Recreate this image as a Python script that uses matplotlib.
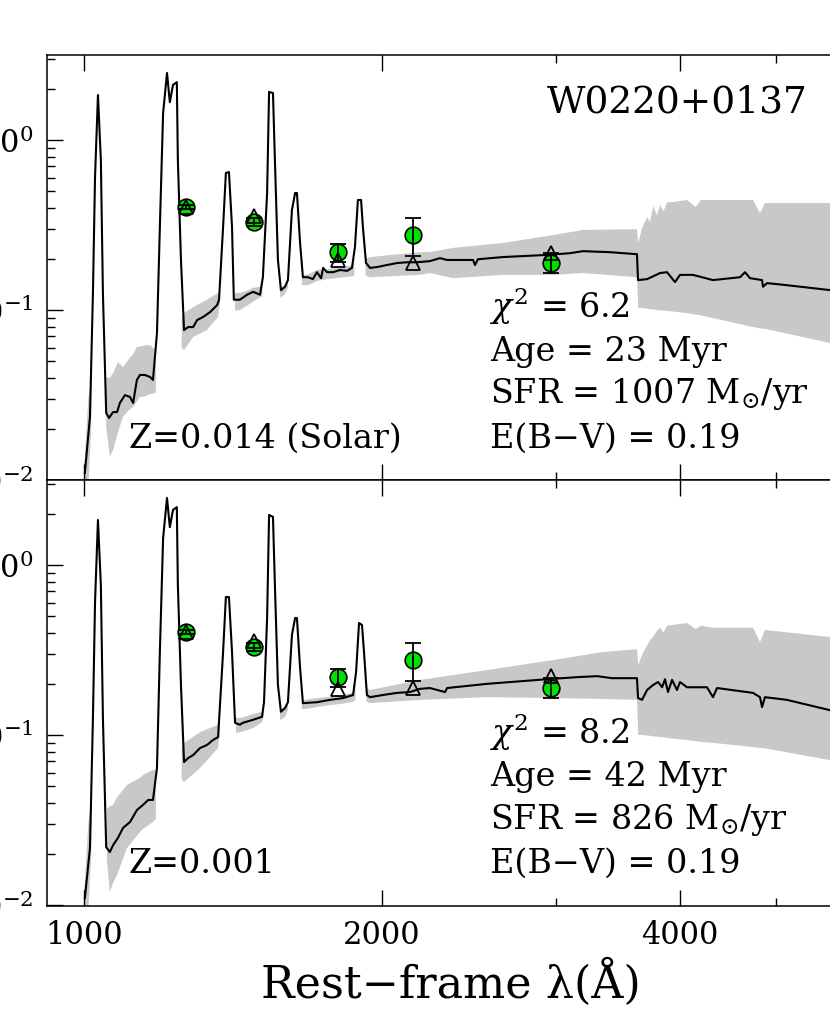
import numpy as np
import matplotlib
matplotlib.use("Agg")
import matplotlib.pyplot as plt
from matplotlib.ticker import FixedLocator, NullFormatter, FixedFormatter

plt.rcParams['font.family'] = ['DejaVu Serif']
plt.rcParams['mathtext.fontset'] = 'dejavuserif'

nan = np.nan

# best-fit model spectra (rest-frame wavelength in A, flux)
top_wave = [1002, 1014, 1021, 1026, 1033, 1040, 1045, 1053, 1060, 1070, 1080, 1087,
            1100, 1113, 1121, 1131, 1139, 1152, 1166, 1174, 1185, 1193, 1202, 1213,
            1221, 1230, 1241, 1244, 1253, 1262, 1274, 1289, 1301, 1319, 1341, 1363,
            1369, 1382, 1391, 1401, 1411, 1417, 1437, 1461, 1482, 1506, 1516, 1531,
            1538, 1552, 1559, 1570, 1581, 1596, 1607, 1622, 1634, 1641, 1653, 1664,
            1684, 1703, 1719, 1736, 1744, 1760, 1785, 1814, 1844, 1865, 1878, 1891,
            1905, 1913, 1927, 1945, 1977, 2023, 2071, 2120, 2169, 2236, 2289, 2327,
            2472, 2483, 2500, 2650, 2936, 3097, 3192, 3399, 3619, 3628, 3705, 3819,
            3881, 3954, 4000, 4123, 4319, 4600, 4653, 4707, 4841, 4852, 4897, 5130,
            5670, 6000]
top_flux = [0.0110, 0.0235, 0.126, 0.606, 1.84, 0.763, 0.126, 0.0248, 0.0232, 0.0251,
            0.0251, 0.0284, 0.0316, 0.0308, 0.0284, 0.0388, 0.0415, 0.0415, 0.0404,
            0.0388, 0.0732, 0.308, 1.44, 2.48, 1.67, 2.11, 2.19, 0.763, 0.197, 0.0762,
            0.0794, 0.0794, 0.0873, 0.0910, 0.0973, 0.107, 0.115, 0.308, 0.640, 0.648,
            0.308, 0.115, 0.115, 0.123, 0.128, 0.123, 0.156, 0.488, 1.92, 1.89, 0.763,
            0.197, 0.131, 0.137, 0.150, 0.388, 0.488, 0.488, 0.248, 0.156, 0.156, 0.152,
            0.167, 0.154, 0.177, 0.167, 0.167, 0.172, 0.170, 0.177, 0.235, 0.444, 0.444,
            0.308, 0.189, 0.177, 0.179, 0.184, 0.189, 0.191, 0.191, 0.194, 0.202, 0.197,
            0.197, 0.184, 0.199, 0.205, 0.211, 0.216, 0.222, 0.219, 0.213, 0.150, 0.152,
            0.165, 0.167, 0.146, 0.161, 0.161, 0.150, 0.156, 0.167, 0.154, 0.150, 0.137,
            0.144, 0.140, 0.131, 0.128]

bot_wave = [1002, 1014, 1021, 1026, 1033, 1040, 1045, 1053, 1062, 1070, 1082, 1095,
            1113, 1131, 1147, 1161, 1174, 1185, 1193, 1202, 1213, 1221, 1230, 1241,
            1244, 1253, 1262, 1274, 1289, 1310, 1331, 1350, 1366, 1382, 1391, 1401,
            1411, 1421, 1437, 1447, 1482, 1513, 1520, 1531, 1538, 1552, 1559, 1570,
            1581, 1596, 1607, 1622, 1634, 1641, 1653, 1664, 1719, 1772, 1827, 1870,
            1883, 1896, 1909, 1918, 1931, 1945, 2005, 2071, 2134, 2185, 2236, 2316,
            2327, 2553, 2936, 3148, 3298, 3415, 3619, 3628, 3662, 3705, 3757, 3801,
            3837, 3863, 3890, 3927, 3972, 4000, 4066, 4259, 4319, 4360, 4740, 4818,
            4841, 4874, 5130, 5670, 6000]
bot_flux = [0.0110, 0.0216, 0.126, 0.606, 1.84, 0.763, 0.126, 0.0219, 0.0205, 0.0225,
            0.0248, 0.0284, 0.0308, 0.0362, 0.0388, 0.0415, 0.0415, 0.064, 0.308, 1.44,
            2.48, 1.67, 2.11, 2.19, 0.763, 0.197, 0.0694, 0.0732, 0.0762, 0.0839, 0.0873,
            0.0935, 0.0973, 0.308, 0.648, 0.648, 0.308, 0.118, 0.115, 0.118, 0.123, 0.128,
            0.156, 0.488, 1.97, 1.92, 0.763, 0.197, 0.137, 0.144, 0.156, 0.388, 0.488,
            0.488, 0.248, 0.154, 0.156, 0.161, 0.165, 0.172, 0.235, 0.456, 0.444, 0.308,
            0.172, 0.167, 0.172, 0.177, 0.179, 0.187, 0.189, 0.179, 0.189, 0.200, 0.213,
            0.219, 0.222, 0.216, 0.216, 0.165, 0.161, 0.184, 0.197, 0.205, 0.191, 0.213,
            0.179, 0.211, 0.184, 0.205, 0.191, 0.191, 0.167, 0.189, 0.177, 0.167, 0.146,
            0.167, 0.161, 0.140, 0.136]

# range of acceptable models (grey band), nan = gap
top_band_wave = [1000, 1010, 1017, nan,
                 1053, 1062, 1070, 1082, 1095, 1108, 1121, 1131, 1139, 1152, 1166, 1182, nan,
                 1255, 1262, 1289, 1331, 1366, 1372, nan,
                 1421, 1437, 1461, 1482, 1506, 1514, nan,
                 1578, 1596, 1607, nan,
                 1660, 1684, 1719, 1760, 1814, 1865, 1875, nan,
                 1925, 1945, 2185, 2236, 2359, 2650, 2977, 3192, 3619,
                 3630, 3660, 3705, 3730, 3760, 3790, 3819, 3850, 3881, 3936, 4066, 4150,
                 4200, 4740, 4818, 4874, 5670, 6000]
top_band_lo = [0.009, 0.009, 0.02, nan,
               0.0205, 0.0137, 0.015, 0.019, 0.0235, 0.0255, 0.0269, 0.029, 0.0308, 0.031,
               0.032, 0.0325, nan,
               0.06, 0.0582, 0.0694, 0.0762, 0.091, 0.11, nan,
               0.099, 0.10, 0.106, 0.112, 0.119, 0.12, nan,
               0.118, 0.124, 0.135, nan,
               0.14, 0.14, 0.148, 0.152, 0.155, 0.158, 0.16, nan,
               0.16, 0.156, 0.161, 0.165, 0.154, 0.161, 0.161, 0.165, 0.156,
               0.103, 0.103, 0.102, 0.101, 0.101, 0.1, 0.1, 0.099, 0.099, 0.098, 0.096,
               0.094, 0.093, 0.0794, 0.078, 0.0775, 0.064, 0.061]
top_band_hi = [0.011, 0.03, 0.04, nan,
               0.040, 0.040, 0.0426, 0.0494, 0.0462, 0.0508, 0.055, 0.0606, 0.061, 0.062,
               0.0622, 0.058, nan,
               0.09, 0.096, 0.104, 0.115, 0.126, 0.12, nan,
               0.126, 0.126, 0.13, 0.135, 0.137, 0.14, nan,
               0.135, 0.14, 0.153, nan,
               0.16, 0.162, 0.172, 0.174, 0.178, 0.183, 0.2, nan,
               0.2, 0.205, 0.219, 0.219, 0.232, 0.248, 0.276, 0.296, 0.299,
               0.248, 0.3, 0.352, 0.33, 0.41, 0.36, 0.415, 0.38, 0.43, 0.432, 0.444,
               0.404, 0.444, 0.444, 0.372, 0.426, 0.426, 0.426]

bot_band_wave = [1000, 1010, 1017, nan,
                 1055, 1062, 1070, 1080, 1105, 1139, 1147, 1174, 1182, nan,
                 1255, 1262, 1310, 1366, 1372, nan,
                 1424, 1440, 1482, 1513, 1518, nan,
                 1578, 1596, 1607, nan,
                 1660, 1684, 1719, 1772, 1827, 1870, 1880, nan,
                 1928, 1945, 2185, 2553, 2977, 3344, 3619,
                 3630, 3665, 3731, 3760, 3790, 3819, 3850, 3881, 4066, 4150, 4200, 4319,
                 4740, 4818, 4874, 5670, 6000]
bot_band_lo = [0.009, 0.009, 0.02, nan,
               0.018, 0.0119, 0.0135, 0.015, 0.0216, 0.0269, 0.028, 0.0308, 0.032, nan,
               0.055, 0.0529, 0.064, 0.0839, 0.105, nan,
               0.103, 0.104, 0.11, 0.119, 0.125, nan,
               0.122, 0.128, 0.14, nan,
               0.142, 0.143, 0.146, 0.15, 0.153, 0.157, 0.16, nan,
               0.158, 0.154, 0.161, 0.167, 0.165, 0.163, 0.161,
               0.1, 0.1, 0.099, 0.098, 0.098, 0.097, 0.097, 0.096, 0.0935, 0.092, 0.091,
               0.09, 0.0849, 0.084, 0.0835, 0.0712, 0.068]
bot_band_hi = [0.011, 0.03, 0.04, nan,
               0.037, 0.038, 0.0388, 0.043, 0.0508, 0.056, 0.0582, 0.0622, 0.062, nan,
               0.085, 0.0897, 0.104, 0.115, 0.118, nan,
               0.126, 0.126, 0.133, 0.137, 0.145, nan,
               0.14, 0.148, 0.16, nan,
               0.16, 0.162, 0.165, 0.168, 0.172, 0.178, 0.2, nan,
               0.19, 0.184, 0.211, 0.241, 0.276, 0.308, 0.32,
               0.258, 0.3, 0.362, 0.38, 0.41, 0.428, 0.40, 0.44, 0.456, 0.42, 0.44,
               0.428, 0.428, 0.352, 0.415, 0.377, 0.37]

# observed photometry and model photometry
phot_wave = [1268, 1485, 1806, 2149, 2963]
phot_flux = [0.405, 0.330, 0.219, 0.278, 0.190]
phot_err_lo = [0.012, 0.018, 0.027, 0.070, 0.025]
phot_err_hi = [0.012, 0.018, 0.026, 0.070, 0.027]
model_top = [0.405, 0.357, 0.197, 0.190, 0.216]
model_bot = [0.405, 0.357, 0.187, 0.189, 0.222]

panels = [
    dict(wave=top_wave, flux=top_flux, bw=top_band_wave, blo=top_band_lo, bhi=top_band_hi,
         model=model_top, zlab='Z=0.014 (Solar)',
         info=[r'$\chi^2$ = 6.2', 'Age = 23 Myr', r'SFR = 1007 M$_{\odot}$/yr', 'E(B\u2212V) = 0.19'],
         ylim=(0.01, 3.162)),
    dict(wave=bot_wave, flux=bot_flux, bw=bot_band_wave, blo=bot_band_lo, bhi=bot_band_hi,
         model=model_bot, zlab='Z=0.001',
         info=[r'$\chi^2$ = 8.2', 'Age = 42 Myr', r'SFR = 826 M$_{\odot}$/yr', 'E(B\u2212V) = 0.19'],
         ylim=(0.00987, 3.162)),
]

fig = plt.figure(figsize=(8.3, 10.14), dpi=100)
ax_top = fig.add_axes([0.0566, 0.5266, 0.9727, 0.4191])
ax_bot = fig.add_axes([0.0566, 0.1065, 0.9727, 0.4201])

info_y = [[0.381, 0.280, 0.181, 0.0753], [0.380, 0.282, 0.181, 0.0775]]
zlab_y = [0.0753, 0.0775]

for i, (ax, p) in enumerate(zip([ax_top, ax_bot], panels)):
    ax.set_xscale('log')
    ax.set_yscale('log')
    ax.fill_between(p['bw'], p['blo'], p['bhi'], color='#c8c8c8', lw=0, zorder=1)
    ax.plot(p['wave'], p['flux'], color='black', lw=1.5, zorder=2)
    ax.plot(phot_wave, phot_flux, 'o', ms=12, mfc='#00e000', mec='black', mew=1.2, zorder=3)
    ax.errorbar(phot_wave, phot_flux, yerr=[phot_err_lo, phot_err_hi], fmt='none',
                ecolor='black', elinewidth=1.3, capsize=6, capthick=1.3, zorder=4)
    ax.plot(phot_wave, p['model'], '^', ms=10, mfc='none', mec='black', mew=1.3, zorder=5)

    ax.set_xlim(917.5, 6000)
    ax.set_ylim(*p['ylim'])
    ax.xaxis.set_major_locator(FixedLocator([1000, 2000, 4000]))
    ax.xaxis.set_major_formatter(FixedFormatter(['1000', '2000', '4000']))
    ax.xaxis.set_minor_locator(FixedLocator([3000, 5000, 6000]))
    ax.xaxis.set_minor_formatter(NullFormatter())
    ax.tick_params(which='both', direction='in', top=True, right=True, width=1.0)
    ax.tick_params(which='major', length=11.5, labelsize=22, pad=10)
    ax.tick_params(which='minor', length=6)
    for s in ax.spines.values():
        s.set_linewidth(1.1)

    for txt, yy in zip(p['info'], info_y[i]):
        ax.text(0.5487, yy, txt, transform=ax.transAxes, fontsize=24, ha='left', va='baseline')
    ax.text(0.1016, zlab_y[i], p['zlab'], transform=ax.transAxes, fontsize=24,
            ha='left', va='baseline')

ax_top.tick_params(labelbottom=False)
ax_top.text(0.9426, 0.866, 'W0220+0137', transform=ax_top.transAxes, fontsize=27,
            ha='right', va='baseline')
ax_bot.set_xlabel('Rest\u2212frame \u03bb(\u00c5)', fontsize=32, labelpad=6)

fig.savefig('out.png', dpi=100)
